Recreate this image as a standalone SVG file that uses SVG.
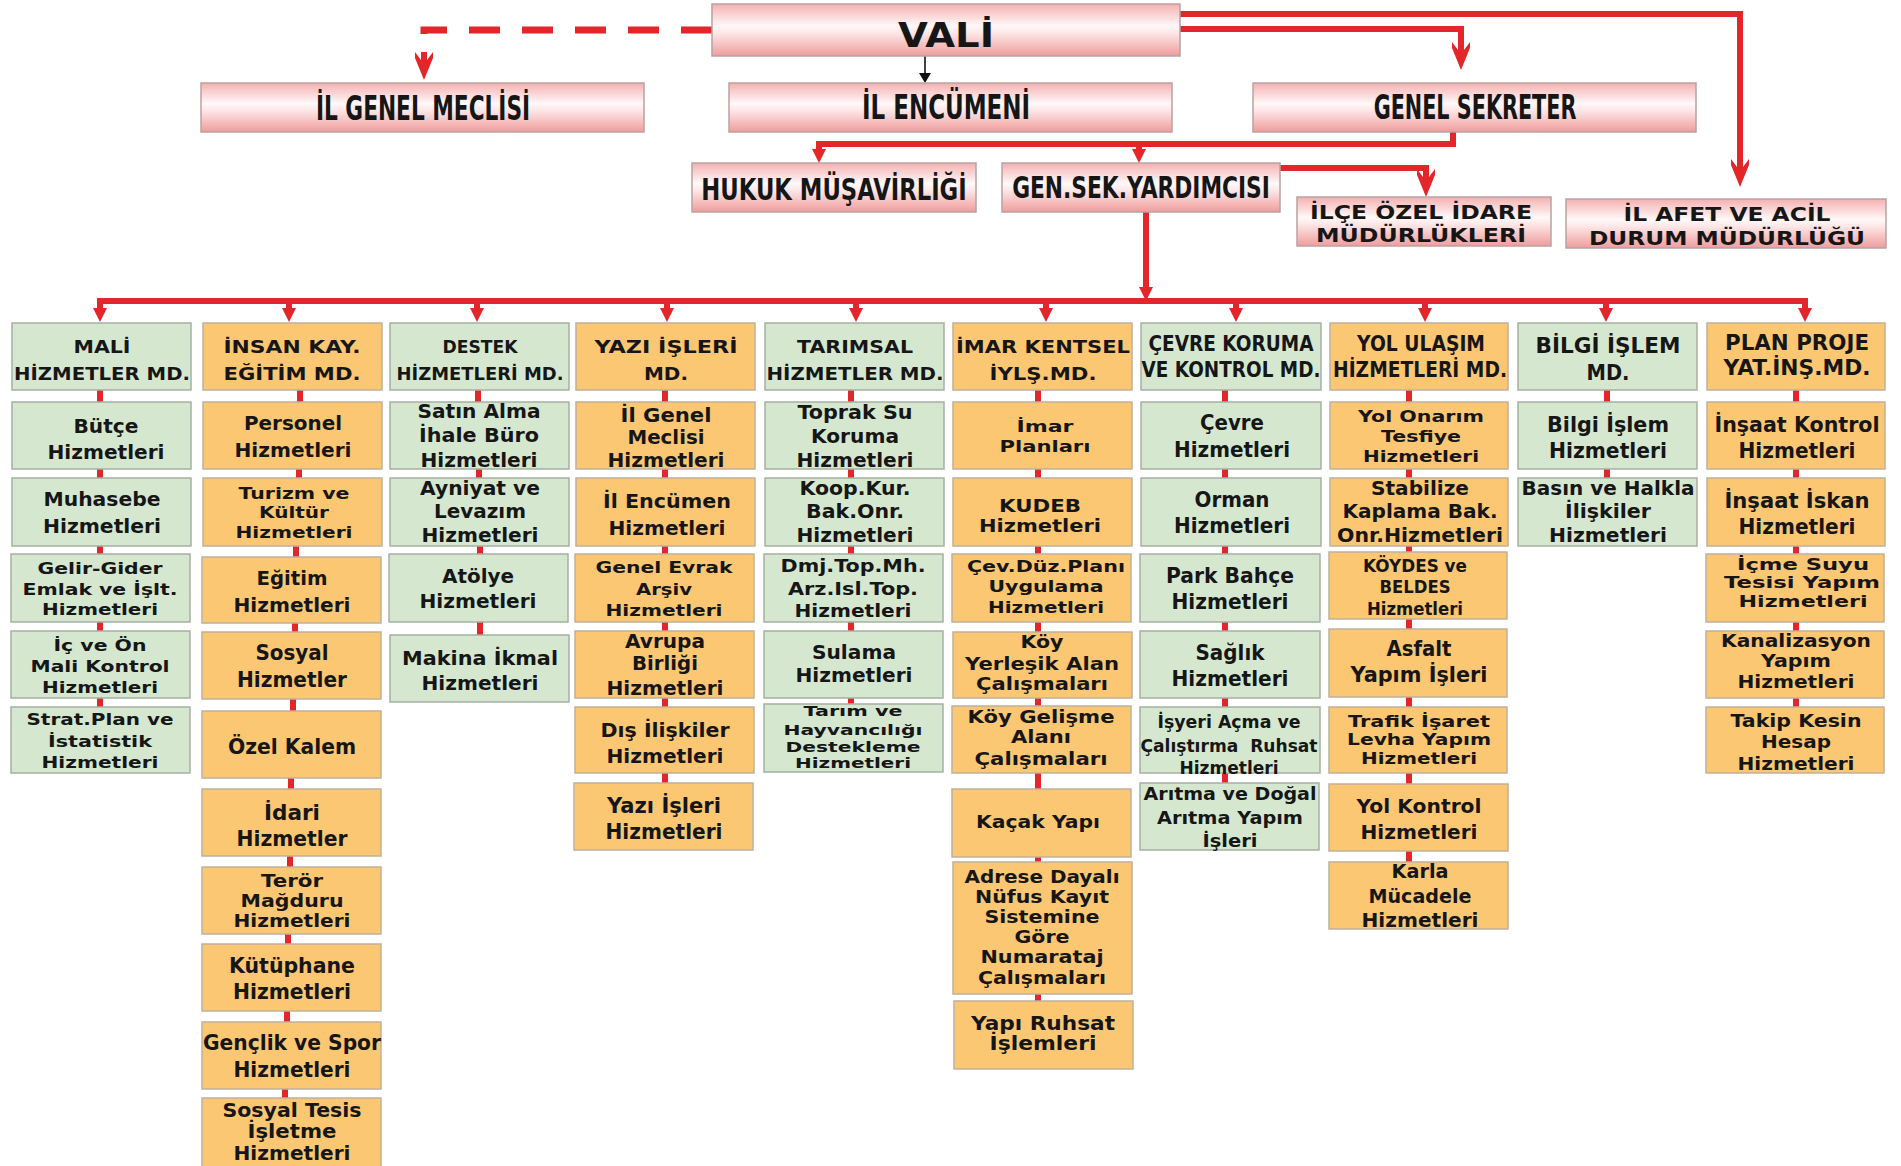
<svg xmlns="http://www.w3.org/2000/svg" width="1901" height="1166" viewBox="0 0 1901 1166">
<style>
.t{font-family:"DejaVu Sans",Verdana,"Liberation Sans",sans-serif;font-weight:bold;fill:#161616;text-anchor:middle}
.g{fill:#d5e8cf;stroke:#a6b0a2;stroke-width:1.5}
.o{fill:#fcc772;stroke:#bfb19c;stroke-width:1.5}
.p{fill:url(#pink);stroke:#b8a2a2;stroke-width:1.5}
.r{stroke:#e2262a;fill:none;stroke-width:6}
.rc{stroke:#e2262a;fill:none;stroke-width:6}
.ah{fill:#e2262a}
</style>
<defs>
<linearGradient id="pink" x1="0" y1="0" x2="0" y2="1">
<stop offset="0" stop-color="#f5b0b0"/>
<stop offset="0.42" stop-color="#fff8f8"/>
<stop offset="0.55" stop-color="#fde8e8"/>
<stop offset="1" stop-color="#f09c9c"/>
</linearGradient>
<path id="notch" d="M0,0 L-9,-22 L-9,-28 L-3,-20 L-3,-28 L3,-28 L3,-20 L9,-28 L9,-22 Z"/>
<path id="tri" d="M0,0 L-7,-14 L7,-14 Z"/>
</defs>

<g id="connectors">
<path d="M712,30 H424 V34" stroke="#e2262a" stroke-width="7" fill="none" stroke-dasharray="31,22"/>
<use href="#notch" x="424" y="80" class="ah"/>
<path class="r" d="M1180,14 H1740 V165"/>
<use href="#notch" x="1740" y="187" class="ah"/>
<path class="r" d="M1180,29 H1461 V50"/>
<use href="#notch" x="1461" y="70" class="ah"/>
<path class="r" d="M1453,132 V144 H819 V152"/>
<use href="#tri" x="819" y="163" class="ah"/>
<path class="r" d="M1139,144 V152"/>
<use href="#tri" x="1139" y="163" class="ah"/>
<path class="r" d="M1280,168 H1426 V178"/>
<use href="#notch" x="1426" y="197" class="ah"/>
<path class="r" d="M1146,212 V290"/>
<use href="#tri" x="1146" y="301" class="ah"/>
<line x1="925" y1="56" x2="925" y2="75" stroke="#111" stroke-width="1.6"/>
<path d="M919,73 L931,73 L925,83 Z" fill="#111"/>
<path class="r" d="M100,312 V301 H1805 V312" stroke-width="5"/>
<path class="r" stroke-width="4" d="M289,301 V312 M477,301 V312 M667,301 V312 M856,301 V312 M1046,301 V312 M1236,301 V312 M1425,301 V312 M1606,301 V312"/>
<use href="#tri" x="100" y="322" class="ah"/>
<use href="#tri" x="289" y="322" class="ah"/>
<use href="#tri" x="477" y="322" class="ah"/>
<use href="#tri" x="667" y="322" class="ah"/>
<use href="#tri" x="856" y="322" class="ah"/>
<use href="#tri" x="1046" y="322" class="ah"/>
<use href="#tri" x="1236" y="322" class="ah"/>
<use href="#tri" x="1425" y="322" class="ah"/>
<use href="#tri" x="1606" y="322" class="ah"/>
<use href="#tri" x="1805" y="322" class="ah"/>
<path class="rc" d="M100,390 V402 M100,469 V478 M100,546 V554 M100,622 V631 M100,698 V707"/>
<path class="rc" d="M300,390 V402 M299,469 V478 M296,546 V557 M295,623 V632 M293,699 V711 M291,778 V789 M290,856 V867 M288,934 V944 M287,1011 V1022 M285,1089 V1098"/>
<path class="rc" d="M478,390 V402 M479,469 V478 M480,546 V554 M480,622 V635"/>
<path class="rc" d="M665,390 V402 M665,469 V478 M665,546 V554 M665,622 V631 M665,698 V707 M665,773 V783"/>
<path class="rc" d="M851,390 V402 M851,469 V478 M851,546 V554 M851,622 V631 M851,698 V704"/>
<path class="rc" d="M1038,390 V402 M1038,469 V478 M1038,546 V554 M1038,622 V632 M1038,698 V706 M1038,773 V789 M1038,857 V862 M1038,994 V1001"/>
<path class="rc" d="M1225,390 V402 M1225,469 V478 M1225,546 V554 M1225,622 V631 M1225,698 V707 M1225,773 V783"/>
<path class="rc" d="M1409,390 V402 M1409,469 V478 M1409,546 V552 M1409,619 V629 M1409,697 V707 M1409,773 V784 M1409,851 V862"/>
<path class="rc" d="M1607,390 V402 M1607,469 V478"/>
<path class="rc" d="M1796,390 V402 M1796,469 V478 M1796,546 V554 M1796,622 V631 M1796,698 V707"/>
</g>

<g id="vali"><rect class="p" x="712" y="4" width="468" height="52"/>
<text class="t" x="946" y="47" font-size="34" textLength="96" lengthAdjust="spacingAndGlyphs">VALİ</text></g>
<g id="il-genel-meclisi"><rect class="p" x="201" y="83" width="443" height="49"/>
<text class="t" transform="translate(423,120) scale(0.6,1)" font-size="33" textLength="357" lengthAdjust="spacingAndGlyphs">İL GENEL MECLİSİ</text></g>
<g id="il-encumeni"><rect class="p" x="729" y="83" width="443" height="49"/>
<text class="t" transform="translate(946,119) scale(0.7,1)" font-size="33" textLength="240" lengthAdjust="spacingAndGlyphs">İL ENCÜMENİ</text></g>
<g id="genel-sekreter"><rect class="p" x="1253" y="83" width="443" height="49"/>
<text class="t" transform="translate(1475,119) scale(0.62,1)" font-size="33" textLength="327" lengthAdjust="spacingAndGlyphs">GENEL SEKRETER</text></g>
<g id="hukuk-musavirligi"><rect class="p" x="692" y="163" width="284" height="49"/>
<text class="t" transform="translate(834,200) scale(0.7,1)" font-size="30" textLength="379" lengthAdjust="spacingAndGlyphs">HUKUK MÜŞAVİRLİĞİ</text></g>
<g id="gen-sek-yardimcisi"><rect class="p" x="1002" y="163" width="278" height="49"/>
<text class="t" transform="translate(1141,198) scale(0.72,1)" font-size="30" textLength="358" lengthAdjust="spacingAndGlyphs">GEN.SEK.YARDIMCISI</text></g>
<g id="ilce-ozel-idare"><rect class="p" x="1297" y="197" width="254" height="49"/>
<text class="t" x="1421" y="219" font-size="19" textLength="222" lengthAdjust="spacingAndGlyphs">İLÇE ÖZEL İDARE</text>
<text class="t" x="1421" y="242" font-size="19" textLength="210" lengthAdjust="spacingAndGlyphs">MÜDÜRLÜKLERİ</text></g>
<g id="il-afet"><rect class="p" x="1566" y="199" width="320" height="49"/>
<text class="t" x="1727" y="221" font-size="20" textLength="207" lengthAdjust="spacingAndGlyphs">İL AFET VE ACİL</text>
<text class="t" x="1727" y="245" font-size="20" textLength="276" lengthAdjust="spacingAndGlyphs">DURUM MÜDÜRLÜĞÜ</text></g>

<g id="mali-md"><rect class="g" x="12" y="323" width="179" height="67"/>
<text class="t" x="102" y="353" font-size="18" textLength="57" lengthAdjust="spacingAndGlyphs">MALİ</text>
<text class="t" x="102" y="380" font-size="18" textLength="176" lengthAdjust="spacingAndGlyphs">HİZMETLER MD.</text></g>
<g id="butce"><rect class="g" x="12" y="402" width="179" height="67"/>
<text class="t" x="106" y="433" font-size="20" textLength="65" lengthAdjust="spacingAndGlyphs">Bütçe</text>
<text class="t" x="106" y="459" font-size="20" textLength="117" lengthAdjust="spacingAndGlyphs">Hizmetleri</text></g>
<g id="muhasebe"><rect class="g" x="12" y="478" width="179" height="68"/>
<text class="t" x="102" y="506" font-size="20" textLength="117" lengthAdjust="spacingAndGlyphs">Muhasebe</text>
<text class="t" x="102" y="533" font-size="20" textLength="118" lengthAdjust="spacingAndGlyphs">Hizmetleri</text></g>
<g id="gelir-gider"><rect class="g" x="11" y="554" width="179" height="68"/>
<text class="t" x="100" y="574" font-size="16" textLength="125" lengthAdjust="spacingAndGlyphs">Gelir-Gider</text>
<text class="t" x="100" y="595" font-size="16" textLength="155" lengthAdjust="spacingAndGlyphs">Emlak ve İşlt.</text>
<text class="t" x="100" y="615" font-size="16" textLength="116" lengthAdjust="spacingAndGlyphs">Hizmetleri</text></g>
<g id="ic-ve-on-mali-kontrol"><rect class="g" x="11" y="631" width="179" height="67"/>
<text class="t" x="100" y="651" font-size="16" textLength="93" lengthAdjust="spacingAndGlyphs">İç ve Ön</text>
<text class="t" x="100" y="672" font-size="16" textLength="139" lengthAdjust="spacingAndGlyphs">Mali Kontrol</text>
<text class="t" x="100" y="693" font-size="16" textLength="116" lengthAdjust="spacingAndGlyphs">Hizmetleri</text></g>
<g id="strat-plan"><rect class="g" x="11" y="707" width="179" height="66"/>
<text class="t" x="100" y="725" font-size="16" textLength="147" lengthAdjust="spacingAndGlyphs">Strat.Plan ve</text>
<text class="t" x="100" y="747" font-size="16" textLength="104" lengthAdjust="spacingAndGlyphs">İstatistik</text>
<text class="t" x="100" y="768" font-size="16" textLength="117" lengthAdjust="spacingAndGlyphs">Hizmetleri</text></g>

<g id="insan-kay-md"><rect class="o" x="203" y="323" width="179" height="67"/>
<text class="t" x="292" y="353" font-size="18" textLength="137" lengthAdjust="spacingAndGlyphs">İNSAN KAY.</text>
<text class="t" x="292" y="380" font-size="18" textLength="137" lengthAdjust="spacingAndGlyphs">EĞİTİM MD.</text></g>
<g id="personel"><rect class="o" x="203" y="402" width="179" height="67"/>
<text class="t" x="293" y="430" font-size="20" textLength="98" lengthAdjust="spacingAndGlyphs">Personel</text>
<text class="t" x="293" y="457" font-size="20" textLength="117" lengthAdjust="spacingAndGlyphs">Hizmetleri</text></g>
<g id="turizm-kultur"><rect class="o" x="203" y="478" width="179" height="68"/>
<text class="t" x="294" y="499" font-size="16" textLength="111" lengthAdjust="spacingAndGlyphs">Turizm ve</text>
<text class="t" x="294" y="518" font-size="16" textLength="70" lengthAdjust="spacingAndGlyphs">Kültür</text>
<text class="t" x="294" y="538" font-size="16" textLength="117" lengthAdjust="spacingAndGlyphs">Hizmetleri</text></g>
<g id="egitim"><rect class="o" x="202" y="557" width="179" height="66"/>
<text class="t" x="292" y="585" font-size="20" textLength="71" lengthAdjust="spacingAndGlyphs">Eğitim</text>
<text class="t" x="292" y="612" font-size="20" textLength="117" lengthAdjust="spacingAndGlyphs">Hizmetleri</text></g>
<g id="sosyal-hizmetler"><rect class="o" x="202" y="632" width="179" height="67"/>
<text class="t" x="292" y="660" font-size="21" textLength="73" lengthAdjust="spacingAndGlyphs">Sosyal</text>
<text class="t" x="292" y="687" font-size="21" textLength="110" lengthAdjust="spacingAndGlyphs">Hizmetler</text></g>
<g id="ozel-kalem"><rect class="o" x="202" y="711" width="179" height="67"/>
<text class="t" x="292" y="754" font-size="21" textLength="128" lengthAdjust="spacingAndGlyphs">Özel Kalem</text></g>
<g id="idari-hizmetler"><rect class="o" x="202" y="789" width="179" height="67"/>
<text class="t" x="292" y="820" font-size="21" textLength="56" lengthAdjust="spacingAndGlyphs">İdari</text>
<text class="t" x="292" y="846" font-size="21" textLength="111" lengthAdjust="spacingAndGlyphs">Hizmetler</text></g>
<g id="teror-magduru"><rect class="o" x="202" y="867" width="179" height="67"/>
<text class="t" x="292" y="887" font-size="17" textLength="62" lengthAdjust="spacingAndGlyphs">Terör</text>
<text class="t" x="292" y="907" font-size="17" textLength="103" lengthAdjust="spacingAndGlyphs">Mağduru</text>
<text class="t" x="292" y="927" font-size="17" textLength="117" lengthAdjust="spacingAndGlyphs">Hizmetleri</text></g>
<g id="kutuphane"><rect class="o" x="202" y="944" width="179" height="67"/>
<text class="t" x="292" y="973" font-size="21" textLength="126" lengthAdjust="spacingAndGlyphs">Kütüphane</text>
<text class="t" x="292" y="999" font-size="21" textLength="118" lengthAdjust="spacingAndGlyphs">Hizmetleri</text></g>
<g id="genclik-spor"><rect class="o" x="202" y="1022" width="179" height="67"/>
<text class="t" x="292" y="1050" font-size="21" textLength="178" lengthAdjust="spacingAndGlyphs">Gençlik ve Spor</text>
<text class="t" x="292" y="1077" font-size="21" textLength="117" lengthAdjust="spacingAndGlyphs">Hizmetleri</text></g>
<g id="sosyal-tesis"><rect class="o" x="202" y="1098" width="179" height="70"/>
<text class="t" x="292" y="1117" font-size="19" textLength="139" lengthAdjust="spacingAndGlyphs">Sosyal Tesis</text>
<text class="t" x="292" y="1138" font-size="19" textLength="89" lengthAdjust="spacingAndGlyphs">İşletme</text>
<text class="t" x="292" y="1160" font-size="19" textLength="117" lengthAdjust="spacingAndGlyphs">Hizmetleri</text></g>

<g id="destek-md"><rect class="g" x="390" y="323" width="179" height="67"/>
<text class="t" x="480" y="353" font-size="18" textLength="75" lengthAdjust="spacingAndGlyphs">DESTEK</text>
<text class="t" x="480" y="380" font-size="18" textLength="167" lengthAdjust="spacingAndGlyphs">HİZMETLERİ MD.</text></g>
<g id="satin-alma"><rect class="g" x="390" y="402" width="179" height="67"/>
<text class="t" x="479" y="418" font-size="19" textLength="123" lengthAdjust="spacingAndGlyphs">Satın Alma</text>
<text class="t" x="479" y="442" font-size="19" textLength="120" lengthAdjust="spacingAndGlyphs">İhale Büro</text>
<text class="t" x="479" y="467" font-size="19" textLength="117" lengthAdjust="spacingAndGlyphs">Hizmetleri</text></g>
<g id="ayniyat-levazim"><rect class="g" x="390" y="478" width="179" height="68"/>
<text class="t" x="480" y="495" font-size="19" textLength="120" lengthAdjust="spacingAndGlyphs">Ayniyat ve</text>
<text class="t" x="480" y="518" font-size="19" textLength="92" lengthAdjust="spacingAndGlyphs">Levazım</text>
<text class="t" x="480" y="542" font-size="19" textLength="117" lengthAdjust="spacingAndGlyphs">Hizmetleri</text></g>
<g id="atolye"><rect class="g" x="389" y="554" width="179" height="68"/>
<text class="t" x="478" y="583" font-size="20" textLength="72" lengthAdjust="spacingAndGlyphs">Atölye</text>
<text class="t" x="478" y="608" font-size="20" textLength="117" lengthAdjust="spacingAndGlyphs">Hizmetleri</text></g>
<g id="makina-ikmal"><rect class="g" x="390" y="635" width="179" height="67"/>
<text class="t" x="480" y="665" font-size="20" textLength="156" lengthAdjust="spacingAndGlyphs">Makina İkmal</text>
<text class="t" x="480" y="690" font-size="20" textLength="117" lengthAdjust="spacingAndGlyphs">Hizmetleri</text></g>

<g id="yazi-isleri-md"><rect class="o" x="576" y="323" width="179" height="67"/>
<text class="t" x="666" y="353" font-size="18" textLength="143" lengthAdjust="spacingAndGlyphs">YAZI İŞLERİ</text>
<text class="t" x="666" y="380" font-size="18" textLength="44" lengthAdjust="spacingAndGlyphs">MD.</text></g>
<g id="il-genel-meclisi-hizmetleri"><rect class="o" x="576" y="402" width="179" height="67"/>
<text class="t" x="666" y="422" font-size="19" textLength="91" lengthAdjust="spacingAndGlyphs">İl Genel</text>
<text class="t" x="666" y="444" font-size="19" textLength="77" lengthAdjust="spacingAndGlyphs">Meclisi</text>
<text class="t" x="666" y="467" font-size="19" textLength="117" lengthAdjust="spacingAndGlyphs">Hizmetleri</text></g>
<g id="il-encumen-hizmetleri"><rect class="o" x="576" y="478" width="179" height="68"/>
<text class="t" x="667" y="508" font-size="20" textLength="128" lengthAdjust="spacingAndGlyphs">İl Encümen</text>
<text class="t" x="667" y="535" font-size="20" textLength="117" lengthAdjust="spacingAndGlyphs">Hizmetleri</text></g>
<g id="genel-evrak"><rect class="o" x="575" y="554" width="179" height="68"/>
<text class="t" x="664" y="573" font-size="16" textLength="137" lengthAdjust="spacingAndGlyphs">Genel Evrak</text>
<text class="t" x="664" y="595" font-size="16" textLength="56" lengthAdjust="spacingAndGlyphs">Arşiv</text>
<text class="t" x="664" y="616" font-size="16" textLength="117" lengthAdjust="spacingAndGlyphs">Hizmetleri</text></g>
<g id="avrupa-birligi"><rect class="o" x="575" y="631" width="179" height="67"/>
<text class="t" x="665" y="648" font-size="19" textLength="80" lengthAdjust="spacingAndGlyphs">Avrupa</text>
<text class="t" x="665" y="670" font-size="19" textLength="66" lengthAdjust="spacingAndGlyphs">Birliği</text>
<text class="t" x="665" y="695" font-size="19" textLength="117" lengthAdjust="spacingAndGlyphs">Hizmetleri</text></g>
<g id="dis-iliskiler"><rect class="o" x="575" y="707" width="179" height="66"/>
<text class="t" x="665" y="737" font-size="20" textLength="129" lengthAdjust="spacingAndGlyphs">Dış İlişkiler</text>
<text class="t" x="665" y="763" font-size="20" textLength="117" lengthAdjust="spacingAndGlyphs">Hizmetleri</text></g>
<g id="yazi-isleri-hizmetleri"><rect class="o" x="574" y="783" width="179" height="67"/>
<text class="t" x="664" y="813" font-size="21" textLength="114" lengthAdjust="spacingAndGlyphs">Yazı İşleri</text>
<text class="t" x="664" y="839" font-size="21" textLength="117" lengthAdjust="spacingAndGlyphs">Hizmetleri</text></g>

<g id="tarimsal-md"><rect class="g" x="765" y="323" width="179" height="67"/>
<text class="t" x="855" y="353" font-size="18" textLength="116" lengthAdjust="spacingAndGlyphs">TARIMSAL</text>
<text class="t" x="855" y="380" font-size="18" textLength="177" lengthAdjust="spacingAndGlyphs">HİZMETLER MD.</text></g>
<g id="toprak-su"><rect class="g" x="765" y="402" width="179" height="67"/>
<text class="t" x="855" y="419" font-size="19" textLength="115" lengthAdjust="spacingAndGlyphs">Toprak Su</text>
<text class="t" x="855" y="443" font-size="19" textLength="88" lengthAdjust="spacingAndGlyphs">Koruma</text>
<text class="t" x="855" y="467" font-size="19" textLength="117" lengthAdjust="spacingAndGlyphs">Hizmetleri</text></g>
<g id="koop-kur"><rect class="g" x="765" y="478" width="179" height="68"/>
<text class="t" x="855" y="495" font-size="19" textLength="111" lengthAdjust="spacingAndGlyphs">Koop.Kur.</text>
<text class="t" x="855" y="518" font-size="19" textLength="98" lengthAdjust="spacingAndGlyphs">Bak.Onr.</text>
<text class="t" x="855" y="542" font-size="19" textLength="117" lengthAdjust="spacingAndGlyphs">Hizmetleri</text></g>
<g id="dmj-top"><rect class="g" x="764" y="554" width="179" height="68"/>
<text class="t" x="853" y="572" font-size="18" textLength="145" lengthAdjust="spacingAndGlyphs">Dmj.Top.Mh.</text>
<text class="t" x="853" y="595" font-size="18" textLength="130" lengthAdjust="spacingAndGlyphs">Arz.Isl.Top.</text>
<text class="t" x="853" y="617" font-size="18" textLength="117" lengthAdjust="spacingAndGlyphs">Hizmetleri</text></g>
<g id="sulama"><rect class="g" x="764" y="631" width="179" height="67"/>
<text class="t" x="854" y="659" font-size="19" textLength="84" lengthAdjust="spacingAndGlyphs">Sulama</text>
<text class="t" x="854" y="682" font-size="19" textLength="117" lengthAdjust="spacingAndGlyphs">Hizmetleri</text></g>
<g id="tarim-hayvancilik"><rect class="g" x="764" y="704" width="179" height="68"/>
<text class="t" x="853" y="716" font-size="14" textLength="99" lengthAdjust="spacingAndGlyphs">Tarım ve</text>
<text class="t" x="853" y="735" font-size="14" textLength="139" lengthAdjust="spacingAndGlyphs">Hayvancılığı</text>
<text class="t" x="853" y="752" font-size="14" textLength="135" lengthAdjust="spacingAndGlyphs">Destekleme</text>
<text class="t" x="853" y="768" font-size="14" textLength="116" lengthAdjust="spacingAndGlyphs">Hizmetleri</text></g>

<g id="imar-md"><rect class="o" x="953" y="323" width="179" height="67"/>
<text class="t" x="1043" y="353" font-size="18" textLength="174" lengthAdjust="spacingAndGlyphs">İMAR KENTSEL</text>
<text class="t" x="1043" y="380" font-size="18" textLength="107" lengthAdjust="spacingAndGlyphs">İYLŞ.MD.</text></g>
<g id="imar-planlari"><rect class="o" x="953" y="402" width="179" height="67"/>
<text class="t" x="1045" y="432" font-size="16" textLength="57" lengthAdjust="spacingAndGlyphs">İmar</text>
<text class="t" x="1045" y="452" font-size="16" textLength="91" lengthAdjust="spacingAndGlyphs">Planları</text></g>
<g id="kudeb"><rect class="o" x="953" y="478" width="179" height="68"/>
<text class="t" x="1040" y="512" font-size="17" textLength="82" lengthAdjust="spacingAndGlyphs">KUDEB</text>
<text class="t" x="1040" y="532" font-size="17" textLength="122" lengthAdjust="spacingAndGlyphs">Hizmetleri</text></g>
<g id="cev-duz-plani"><rect class="o" x="952" y="554" width="179" height="68"/>
<text class="t" x="1046" y="572" font-size="16" textLength="158" lengthAdjust="spacingAndGlyphs">Çev.Düz.Planı</text>
<text class="t" x="1046" y="592" font-size="16" textLength="115" lengthAdjust="spacingAndGlyphs">Uygulama</text>
<text class="t" x="1046" y="613" font-size="16" textLength="116" lengthAdjust="spacingAndGlyphs">Hizmetleri</text></g>
<g id="koy-yerlesik"><rect class="o" x="953" y="632" width="179" height="66"/>
<text class="t" x="1042" y="648" font-size="17" textLength="43" lengthAdjust="spacingAndGlyphs">Köy</text>
<text class="t" x="1042" y="670" font-size="17" textLength="154" lengthAdjust="spacingAndGlyphs">Yerleşik Alan</text>
<text class="t" x="1042" y="690" font-size="17" textLength="132" lengthAdjust="spacingAndGlyphs">Çalışmaları</text></g>
<g id="koy-gelisme"><rect class="o" x="952" y="706" width="179" height="67"/>
<text class="t" x="1041" y="723" font-size="17" textLength="147" lengthAdjust="spacingAndGlyphs">Köy Gelişme</text>
<text class="t" x="1041" y="743" font-size="17" textLength="60" lengthAdjust="spacingAndGlyphs">Alanı</text>
<text class="t" x="1041" y="765" font-size="17" textLength="133" lengthAdjust="spacingAndGlyphs">Çalışmaları</text></g>
<g id="kacak-yapi"><rect class="o" x="952" y="789" width="179" height="68"/>
<text class="t" x="1038" y="828" font-size="18" textLength="124" lengthAdjust="spacingAndGlyphs">Kaçak Yapı</text></g>
<g id="adrese-dayali"><rect class="o" x="953" y="862" width="179" height="132"/>
<text class="t" x="1042" y="883" font-size="18" textLength="155" lengthAdjust="spacingAndGlyphs">Adrese Dayalı</text>
<text class="t" x="1042" y="903" font-size="18" textLength="134" lengthAdjust="spacingAndGlyphs">Nüfus Kayıt</text>
<text class="t" x="1042" y="923" font-size="18" textLength="115" lengthAdjust="spacingAndGlyphs">Sistemine</text>
<text class="t" x="1042" y="943" font-size="18" textLength="55" lengthAdjust="spacingAndGlyphs">Göre</text>
<text class="t" x="1042" y="963" font-size="18" textLength="123" lengthAdjust="spacingAndGlyphs">Numarataj</text>
<text class="t" x="1042" y="984" font-size="18" textLength="128" lengthAdjust="spacingAndGlyphs">Çalışmaları</text></g>
<g id="yapi-ruhsat"><rect class="o" x="954" y="1001" width="179" height="68"/>
<text class="t" x="1043" y="1030" font-size="19" textLength="144" lengthAdjust="spacingAndGlyphs">Yapı Ruhsat</text>
<text class="t" x="1043" y="1050" font-size="19" textLength="107" lengthAdjust="spacingAndGlyphs">İşlemleri</text></g>

<g id="cevre-md"><rect class="g" x="1141" y="323" width="180" height="67"/>
<text class="t" x="1231" y="351" font-size="21" textLength="165" lengthAdjust="spacingAndGlyphs">ÇEVRE KORUMA</text>
<text class="t" x="1231" y="377" font-size="21" textLength="179" lengthAdjust="spacingAndGlyphs">VE KONTROL MD.</text></g>
<g id="cevre-hizmetleri"><rect class="g" x="1141" y="402" width="180" height="67"/>
<text class="t" x="1232" y="430" font-size="21" textLength="64" lengthAdjust="spacingAndGlyphs">Çevre</text>
<text class="t" x="1232" y="457" font-size="21" textLength="116" lengthAdjust="spacingAndGlyphs">Hizmetleri</text></g>
<g id="orman"><rect class="g" x="1141" y="478" width="180" height="68"/>
<text class="t" x="1232" y="507" font-size="21" textLength="75" lengthAdjust="spacingAndGlyphs">Orman</text>
<text class="t" x="1232" y="533" font-size="21" textLength="116" lengthAdjust="spacingAndGlyphs">Hizmetleri</text></g>
<g id="park-bahce"><rect class="g" x="1140" y="554" width="180" height="68"/>
<text class="t" x="1230" y="583" font-size="21" textLength="128" lengthAdjust="spacingAndGlyphs">Park Bahçe</text>
<text class="t" x="1230" y="609" font-size="21" textLength="117" lengthAdjust="spacingAndGlyphs">Hizmetleri</text></g>
<g id="saglik"><rect class="g" x="1140" y="631" width="180" height="67"/>
<text class="t" x="1230" y="660" font-size="21" textLength="69" lengthAdjust="spacingAndGlyphs">Sağlık</text>
<text class="t" x="1230" y="686" font-size="21" textLength="117" lengthAdjust="spacingAndGlyphs">Hizmetleri</text></g>
<g id="isyeri-acma"><rect class="g" x="1140" y="707" width="180" height="66"/>
<text class="t" x="1229" y="728" font-size="18" textLength="143" lengthAdjust="spacingAndGlyphs">İşyeri Açma ve</text>
<text class="t" x="1229" y="752" font-size="18" textLength="177" lengthAdjust="spacingAndGlyphs" xml:space="preserve">Çalıştırma  Ruhsat</text>
<text class="t" x="1229" y="774" font-size="18" textLength="99" lengthAdjust="spacingAndGlyphs">Hizmetleri</text></g>
<g id="aritma"><rect class="g" x="1140" y="783" width="179" height="67"/>
<text class="t" x="1230" y="800" font-size="18" textLength="173" lengthAdjust="spacingAndGlyphs">Arıtma ve Doğal</text>
<text class="t" x="1230" y="824" font-size="18" textLength="146" lengthAdjust="spacingAndGlyphs">Arıtma Yapım</text>
<text class="t" x="1230" y="847" font-size="18" textLength="55" lengthAdjust="spacingAndGlyphs">İşleri</text></g>

<g id="yol-md"><rect class="o" x="1330" y="323" width="178" height="67"/>
<text class="t" x="1421" y="351" font-size="21" textLength="128" lengthAdjust="spacingAndGlyphs">YOL ULAŞIM</text>
<text class="t" x="1420" y="377" font-size="21" textLength="174" lengthAdjust="spacingAndGlyphs">HİZMETLERİ MD.</text></g>
<g id="yol-onarim"><rect class="o" x="1330" y="402" width="178" height="67"/>
<text class="t" x="1421" y="422" font-size="16" textLength="126" lengthAdjust="spacingAndGlyphs">Yol Onarım</text>
<text class="t" x="1421" y="442" font-size="16" textLength="80" lengthAdjust="spacingAndGlyphs">Tesfiye</text>
<text class="t" x="1421" y="462" font-size="16" textLength="116" lengthAdjust="spacingAndGlyphs">Hizmetleri</text></g>
<g id="stabilize"><rect class="o" x="1330" y="478" width="178" height="68"/>
<text class="t" x="1420" y="495" font-size="19" textLength="98" lengthAdjust="spacingAndGlyphs">Stabilize</text>
<text class="t" x="1420" y="518" font-size="19" textLength="155" lengthAdjust="spacingAndGlyphs">Kaplama Bak.</text>
<text class="t" x="1420" y="542" font-size="19" textLength="166" lengthAdjust="spacingAndGlyphs">Onr.Hizmetleri</text></g>
<g id="koydes-beldes"><rect class="o" x="1329" y="552" width="178" height="67"/>
<text class="t" x="1415" y="572" font-size="17" textLength="104" lengthAdjust="spacingAndGlyphs">KÖYDES ve</text>
<text class="t" x="1415" y="593" font-size="17" textLength="71" lengthAdjust="spacingAndGlyphs">BELDES</text>
<text class="t" x="1415" y="615" font-size="17" textLength="96" lengthAdjust="spacingAndGlyphs">Hizmetleri</text></g>
<g id="asfalt"><rect class="o" x="1329" y="629" width="178" height="68"/>
<text class="t" x="1419" y="656" font-size="21" textLength="65" lengthAdjust="spacingAndGlyphs">Asfalt</text>
<text class="t" x="1419" y="682" font-size="21" textLength="137" lengthAdjust="spacingAndGlyphs">Yapım İşleri</text></g>
<g id="trafik-isaret"><rect class="o" x="1329" y="707" width="178" height="66"/>
<text class="t" x="1419" y="727" font-size="15" textLength="142" lengthAdjust="spacingAndGlyphs">Trafik İşaret</text>
<text class="t" x="1419" y="745" font-size="15" textLength="144" lengthAdjust="spacingAndGlyphs">Levha Yapım</text>
<text class="t" x="1419" y="764" font-size="15" textLength="116" lengthAdjust="spacingAndGlyphs">Hizmetleri</text></g>
<g id="yol-kontrol"><rect class="o" x="1329" y="784" width="179" height="67"/>
<text class="t" x="1419" y="813" font-size="20" textLength="125" lengthAdjust="spacingAndGlyphs">Yol Kontrol</text>
<text class="t" x="1419" y="839" font-size="20" textLength="117" lengthAdjust="spacingAndGlyphs">Hizmetleri</text></g>
<g id="karla-mucadele"><rect class="o" x="1329" y="862" width="179" height="67"/>
<text class="t" x="1420" y="878" font-size="19" textLength="57" lengthAdjust="spacingAndGlyphs">Karla</text>
<text class="t" x="1420" y="903" font-size="19" textLength="103" lengthAdjust="spacingAndGlyphs">Mücadele</text>
<text class="t" x="1420" y="927" font-size="19" textLength="117" lengthAdjust="spacingAndGlyphs">Hizmetleri</text></g>

<g id="bilgi-islem-md"><rect class="g" x="1518" y="323" width="179" height="67"/>
<text class="t" x="1608" y="353" font-size="21" textLength="145" lengthAdjust="spacingAndGlyphs">BİLGİ İŞLEM</text>
<text class="t" x="1608" y="380" font-size="21" textLength="43" lengthAdjust="spacingAndGlyphs">MD.</text></g>
<g id="bilgi-islem-hizmetleri"><rect class="g" x="1518" y="402" width="179" height="67"/>
<text class="t" x="1608" y="432" font-size="21" textLength="122" lengthAdjust="spacingAndGlyphs">Bilgi İşlem</text>
<text class="t" x="1608" y="458" font-size="21" textLength="118" lengthAdjust="spacingAndGlyphs">Hizmetleri</text></g>
<g id="basin-halkla"><rect class="g" x="1518" y="478" width="179" height="68"/>
<text class="t" x="1608" y="495" font-size="19" textLength="173" lengthAdjust="spacingAndGlyphs">Basın ve Halkla</text>
<text class="t" x="1608" y="518" font-size="19" textLength="86" lengthAdjust="spacingAndGlyphs">İlişkiler</text>
<text class="t" x="1608" y="542" font-size="19" textLength="118" lengthAdjust="spacingAndGlyphs">Hizmetleri</text></g>

<g id="plan-proje-md"><rect class="o" x="1707" y="323" width="178" height="67"/>
<text class="t" x="1797" y="350" font-size="21" textLength="144" lengthAdjust="spacingAndGlyphs">PLAN PROJE</text>
<text class="t" x="1797" y="375" font-size="21" textLength="147" lengthAdjust="spacingAndGlyphs">YAT.İNŞ.MD.</text></g>
<g id="insaat-kontrol"><rect class="o" x="1707" y="402" width="178" height="67"/>
<text class="t" x="1797" y="432" font-size="21" textLength="165" lengthAdjust="spacingAndGlyphs">İnşaat Kontrol</text>
<text class="t" x="1797" y="458" font-size="21" textLength="117" lengthAdjust="spacingAndGlyphs">Hizmetleri</text></g>
<g id="insaat-iskan"><rect class="o" x="1707" y="478" width="178" height="68"/>
<text class="t" x="1797" y="508" font-size="21" textLength="145" lengthAdjust="spacingAndGlyphs">İnşaat İskan</text>
<text class="t" x="1797" y="534" font-size="21" textLength="117" lengthAdjust="spacingAndGlyphs">Hizmetleri</text></g>
<g id="icme-suyu"><rect class="o" x="1706" y="554" width="178" height="68"/>
<text class="t" x="1803" y="570" font-size="15" textLength="132" lengthAdjust="spacingAndGlyphs">İçme Suyu</text>
<text class="t" x="1802" y="588" font-size="15" textLength="156" lengthAdjust="spacingAndGlyphs">Tesisi Yapım</text>
<text class="t" x="1803" y="607" font-size="15" textLength="129" lengthAdjust="spacingAndGlyphs">Hizmetleri</text></g>
<g id="kanalizasyon"><rect class="o" x="1706" y="631" width="178" height="67"/>
<text class="t" x="1796" y="647" font-size="17" textLength="150" lengthAdjust="spacingAndGlyphs">Kanalizasyon</text>
<text class="t" x="1796" y="667" font-size="17" textLength="70" lengthAdjust="spacingAndGlyphs">Yapım</text>
<text class="t" x="1796" y="688" font-size="17" textLength="117" lengthAdjust="spacingAndGlyphs">Hizmetleri</text></g>
<g id="takip-kesin-hesap"><rect class="o" x="1706" y="707" width="178" height="66"/>
<text class="t" x="1796" y="727" font-size="18" textLength="131" lengthAdjust="spacingAndGlyphs">Takip Kesin</text>
<text class="t" x="1796" y="748" font-size="18" textLength="70" lengthAdjust="spacingAndGlyphs">Hesap</text>
<text class="t" x="1796" y="770" font-size="18" textLength="117" lengthAdjust="spacingAndGlyphs">Hizmetleri</text></g>
</svg>
